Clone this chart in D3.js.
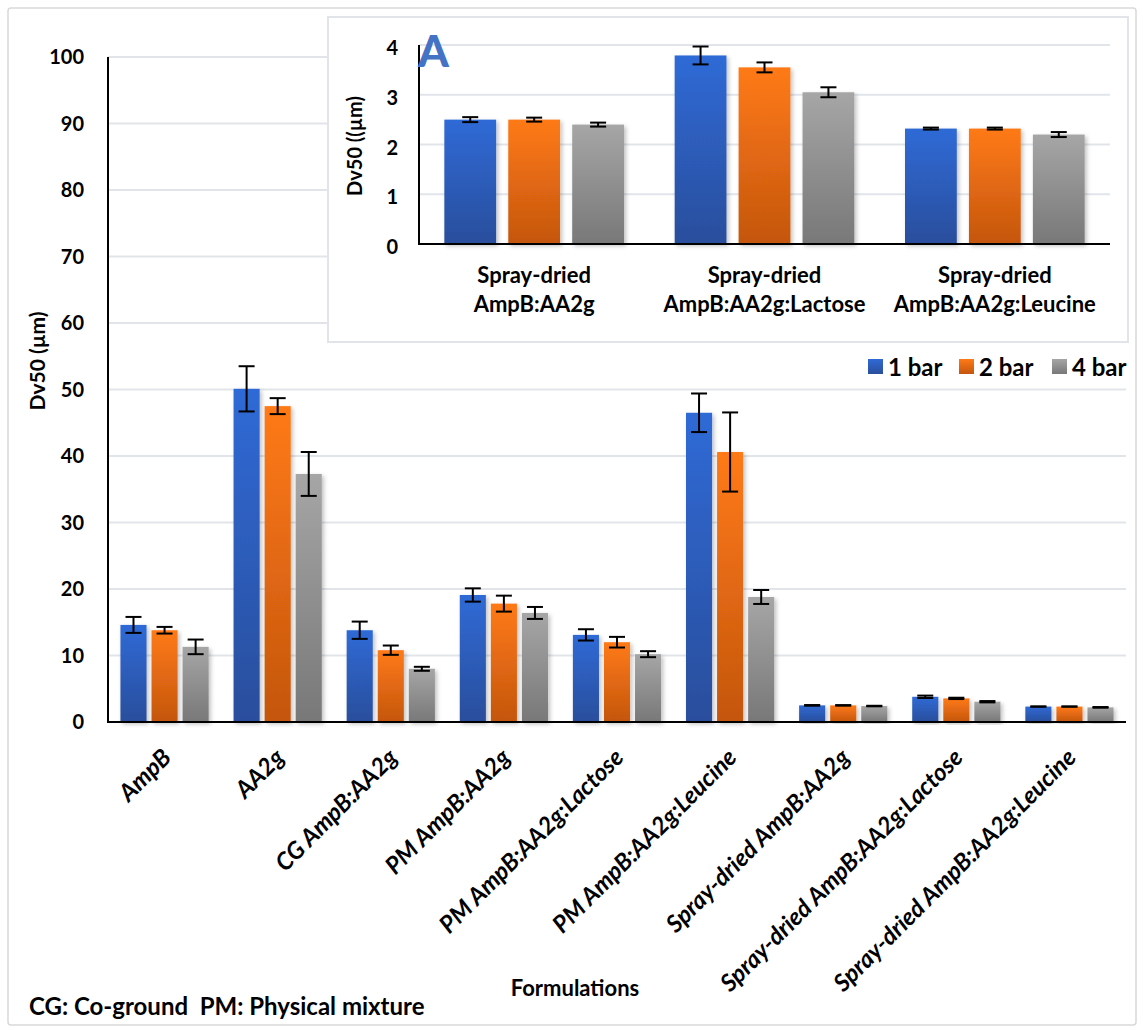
<!DOCTYPE html>
<html>
<head>
    <title>Dv50 by formulation</title>
    <style>
        body { margin: 0; background: #ffffff; }
        #chart { display: block; }
        text { font-family: Lato, "Open Sans", sans-serif; font-weight: bold; fill: #000; }
    </style>
    <script src="https://d3js.org/d3.v7.min.js"></script>
</head>
<body>
    <svg id="chart" width="1143" height="1030"></svg>
    <script>
        // data
        var categories = ["AmpB", "AA2g", "CG AmpB:AA2g", "PM AmpB:AA2g", "PM AmpB:AA2g:Lactose",
            "PM AmpB:AA2g:Leucine", "Spray-dried AmpB:AA2g", "Spray-dried AmpB:AA2g:Lactose",
            "Spray-dried AmpB:AA2g:Leucine"];
        var seriesNames = ["1 bar", "2 bar", "4 bar"];
        var bar1 = [14.6, 50.1, 13.8, 19.1, 13.1, 46.5, 2.50, 3.79, 2.32];
        var bar2 = [13.8, 47.5, 10.8, 17.8, 12.0, 40.6, 2.50, 3.55, 2.32];
        var bar4 = [11.3, 37.3, 8.0, 16.4, 10.2, 18.8, 2.40, 3.05, 2.20];
        var err1 = [1.2, 3.4, 1.3, 1.0, 0.85, 2.9, 0.05, 0.18, 0.02];
        var err2 = [0.5, 1.2, 0.7, 1.2, 0.8, 5.95, 0.04, 0.10, 0.02];
        var err4 = [1.1, 3.3, 0.3, 0.9, 0.45, 1.05, 0.04, 0.10, 0.05];
        var yTicks = [0, 10, 20, 30, 40, 50, 60, 70, 80, 90, 100];
        var insetTicks = [0, 1, 2, 3, 4];
        var insetLabels = [["Spray-dried", "AmpB:AA2g"], ["Spray-dried", "AmpB:AA2g:Lactose"], ["Spray-dried", "AmpB:AA2g:Leucine"]];

        var values = [bar1, bar2, bar4];
        var errors = [err1, err2, err4];
        var gradColors = [["#2f6ad6", "#2a4e9c"], ["#ff7a17", "#c4560e"], ["#a6a6a6", "#787878"]];

        var svg = d3.select("#chart");
        var defs = svg.append("defs");

        seriesNames.forEach(function(s, i) {
            var g = defs.append("linearGradient")
                .attr("id", "grad" + i)
                .attr("x1", 0).attr("y1", 0).attr("x2", 0).attr("y2", 1);
            g.append("stop").attr("offset", "0%").attr("stop-color", gradColors[i][0]);
            g.append("stop").attr("offset", "100%").attr("stop-color", gradColors[i][1]);
        });
        var shadow = defs.append("filter").attr("id", "shadow")
            .attr("x", "-20%").attr("y", "-5%").attr("width", "150%").attr("height", "115%");
        shadow.append("feDropShadow")
            .attr("dx", 2).attr("dy", 2).attr("stdDeviation", 2)
            .attr("flood-color", "#000").attr("flood-opacity", 0.25);

        // outer frame
        svg.append("rect")
            .attr("x", 8).attr("y", 8).attr("width", 1128).attr("height", 1017)
            .attr("rx", 3).attr("fill", "#fff").attr("stroke", "#d9d9d9").attr("stroke-width", 1.5);

        function drawBars(g, cats, idx, x0, x1, y) {
            seriesNames.forEach(function(s, si) {
                g.append("g").selectAll("rect")
                    .data(idx)
                    .join("rect")
                    .attr("x", function(d, k) { return x0(cats[k]) + x1(s); })
                    .attr("y", function(d) { return y(values[si][d]); })
                    .attr("width", x1.bandwidth())
                    .attr("height", function(d) { return y(0) - y(values[si][d]); })
                    .attr("fill", "url(#grad" + si + ")")
                    .attr("filter", "url(#shadow)");
            });
            seriesNames.forEach(function(s, si) {
                var eg = g.append("g").attr("stroke", "#000").attr("stroke-width", 2);
                idx.forEach(function(d, k) {
                    var cx = x0(cats[k]) + x1(s) + x1.bandwidth() / 2;
                    var hi = y(values[si][d] + errors[si][d]);
                    var lo = y(values[si][d] - errors[si][d]);
                    eg.append("line").attr("x1", cx).attr("x2", cx).attr("y1", hi).attr("y2", lo);
                    eg.append("line").attr("x1", cx - 8).attr("x2", cx + 8).attr("y1", hi).attr("y2", hi);
                    eg.append("line").attr("x1", cx - 8).attr("x2", cx + 8).attr("y1", lo).attr("y2", lo);
                });
            });
        }

        // ---- main chart ----
        var y = d3.scaleLinear().domain([0, 100]).range([722, 57]);
        var x0 = d3.scaleBand().domain(categories).range([108, 1126]).paddingInner(0.22).paddingOuter(0.11);
        var x1 = d3.scaleBand().domain(seriesNames).range([0, x0.bandwidth()]).paddingInner(0.16);

        var main = svg.append("g");
        main.append("g").selectAll("line")
            .data(yTicks.slice(1))
            .join("line")
            .attr("x1", 108).attr("x2", 1126)
            .attr("y1", function(d) { return y(d); }).attr("y2", function(d) { return y(d); })
            .attr("stroke", "#e1e5ea").attr("stroke-width", 2);

        main.append("g").selectAll("text")
            .data(yTicks)
            .join("text")
            .attr("x", 84)
            .attr("y", function(d) { return y(d); })
            .attr("dy", "0.36em")
            .attr("text-anchor", "end")
            .style("font-size", "20px")
            .text(function(d) { return d; });

        drawBars(main, categories, d3.range(categories.length), x0, x1, y);

        main.append("line").attr("x1", 108).attr("x2", 108).attr("y1", y(100)).attr("y2", y(0))
            .attr("stroke", "#000").attr("stroke-width", 2);
        main.append("line").attr("x1", 107).attr("x2", 1126).attr("y1", y(0)).attr("y2", y(0))
            .attr("stroke", "#000").attr("stroke-width", 2);

        main.append("g").selectAll("text")
            .data(categories)
            .join("text")
            .attr("text-anchor", "end")
            .attr("transform", function(d) {
                return "translate(" + (x0(d) + x0.bandwidth() / 2 + 8) + ",759) rotate(-45)";
            })
            .style("font-size", "24px")
            .style("font-style", "italic")
            .text(function(d) { return d; });

        svg.append("text")
            .attr("transform", "translate(45,361) rotate(-90)")
            .attr("text-anchor", "middle")
            .style("font-size", "21px")
            .text("Dv50 (µm)");

        svg.append("text")
            .attr("x", 575).attr("y", 996)
            .attr("text-anchor", "middle")
            .style("font-size", "22px")
            .text("Formulations");

        svg.append("text")
            .attr("x", 29).attr("y", 1015)
            .style("font-size", "24px")
            .style("white-space", "pre")
            .text("CG: Co-ground  PM: Physical mixture");

        // legend
        var legend = svg.append("g");
        var legendX = [868, 959, 1052];
        seriesNames.forEach(function(s, i) {
            legend.append("rect")
                .attr("x", legendX[i]).attr("y", 359).attr("width", 15).attr("height", 15)
                .attr("fill", "url(#grad" + i + ")");
            legend.append("text")
                .attr("x", legendX[i] + 20).attr("y", 376)
                .style("font-size", "24px")
                .text(s);
        });

        // ---- inset ----
        var inset = svg.append("g");
        inset.append("rect")
            .attr("x", 328).attr("y", 17).attr("width", 800).attr("height", 325)
            .attr("fill", "#fff").attr("stroke", "#e1e5ea").attr("stroke-width", 2);

        var insetCats = categories.slice(6);
        var insetIdx = [6, 7, 8];
        var iy = d3.scaleLinear().domain([0, 4]).range([244, 45]);
        var ix0 = d3.scaleBand().domain(insetCats).range([419, 1110]).paddingInner(0.22).paddingOuter(0.11);
        var ix1 = d3.scaleBand().domain(seriesNames).range([0, ix0.bandwidth()]).paddingInner(0.19);

        inset.append("g").selectAll("line")
            .data(insetTicks.slice(1))
            .join("line")
            .attr("x1", 419).attr("x2", 1110)
            .attr("y1", function(d) { return iy(d); }).attr("y2", function(d) { return iy(d); })
            .attr("stroke", "#e1e5ea").attr("stroke-width", 2);

        inset.append("g").selectAll("text")
            .data(insetTicks)
            .join("text")
            .attr("x", 398)
            .attr("y", function(d) { return iy(d) + 3; })
            .attr("dy", "0.36em")
            .attr("text-anchor", "end")
            .style("font-size", "20px")
            .text(function(d) { return d; });

        drawBars(inset, insetCats, insetIdx, ix0, ix1, iy);

        inset.append("line").attr("x1", 419).attr("x2", 419).attr("y1", iy(4)).attr("y2", iy(0))
            .attr("stroke", "#000").attr("stroke-width", 2);
        inset.append("line").attr("x1", 418).attr("x2", 1110).attr("y1", iy(0)).attr("y2", iy(0))
            .attr("stroke", "#000").attr("stroke-width", 2);

        inset.append("text")
            .attr("x", 418).attr("y", 67)
            .style("font-size", "44px")
            .style("font-weight", "900")
            .style("fill", "#4472c4")
            .text("A");

        var labelG = inset.append("g").selectAll("text")
            .data(insetCats)
            .join("text")
            .attr("text-anchor", "middle")
            .style("font-size", "22px");
        labelG.each(function(d, k) {
            var t = d3.select(this);
            var cx = ix0(d) + ix0.bandwidth() / 2;
            insetLabels[k].forEach(function(line, li) {
                t.append("tspan").attr("x", cx).attr("y", 283 + li * 29).text(line);
            });
        });

        inset.append("text")
            .attr("transform", "translate(362,146) rotate(-90)")
            .attr("text-anchor", "middle")
            .style("font-size", "20px")
            .text("Dv50 ((µm)");
    </script>
</body>
</html>
